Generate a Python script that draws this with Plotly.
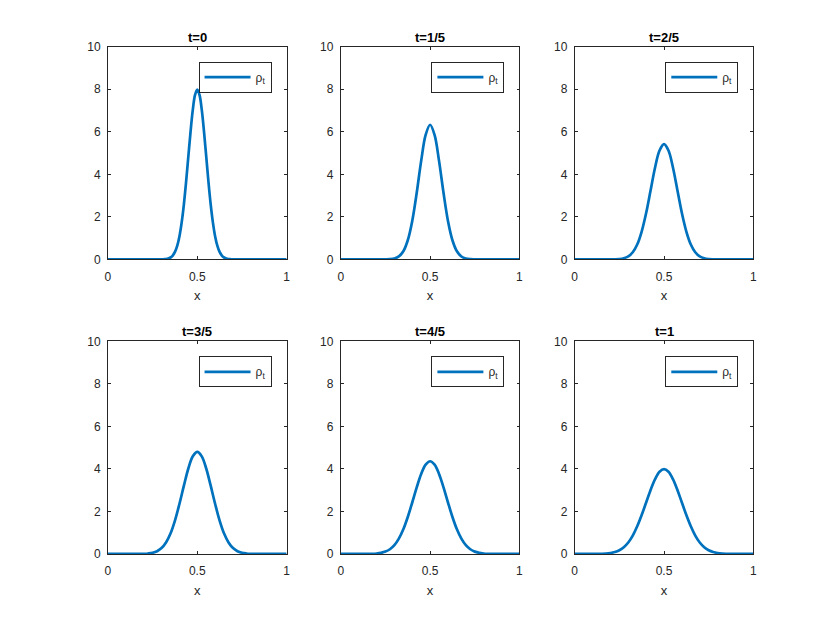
import plotly.graph_objects as go

x = [i / 40 for i in range(41)]
x_fine = [i / 80 for i in range(81)]

titles = ["t=0", "t=1/5", "t=2/5", "t=3/5", "t=4/5", "t=1"]

rho_0 = [0] * 24 + [
         0.003, 0.007, 0.017, 0.041, 0.089, 0.182, 0.35, 0.635, 1.08, 1.73, 2.59, 3.65, 4.84, 6.02, 7.04, 7.73,
         7.98,
         7.73, 7.04, 6.02, 4.84, 3.65, 2.59, 1.73, 1.08, 0.635, 0.35, 0.182, 0.089, 0.041, 0.017, 0.007, 0.003,
         ] + [0] * 24
rho_1 = [0, 0, 0, 0, 0, 0, 0, 0, 0, 0,
         0.003, 0.011, 0.043, 0.138, 0.38, 0.90, 1.81, 3.13, 4.63, 5.85,
         6.33,
         5.85, 4.63, 3.13, 1.81, 0.90, 0.38, 0.138, 0.043, 0.011, 0.003,
         0, 0, 0, 0, 0, 0, 0, 0, 0, 0]
rho_2 = [0, 0, 0, 0, 0, 0, 0, 0,
         0.002, 0.006, 0.018, 0.054, 0.143, 0.335, 0.70, 1.31, 2.18, 3.25, 4.32, 5.12,
         5.42,
         5.12, 4.32, 3.25, 2.18, 1.31, 0.70, 0.335, 0.143, 0.054, 0.018, 0.006, 0.002,
         0, 0, 0, 0, 0, 0, 0, 0]
rho_3 = [0, 0, 0, 0, 0, 0,
         0.001, 0.003, 0.008, 0.022, 0.055, 0.129, 0.276, 0.54, 0.96, 1.57, 2.35, 3.21, 4.02, 4.59,
         4.80,
         4.59, 4.02, 3.21, 2.35, 1.57, 0.96, 0.54, 0.276, 0.129, 0.055, 0.022, 0.008, 0.003, 0.001,
         0, 0, 0, 0, 0, 0]
rho_4 = [0, 0, 0, 0, 0,
         0.001, 0.003, 0.009, 0.022, 0.051, 0.110, 0.222, 0.415, 0.72, 1.16, 1.74, 2.42, 3.13, 3.76, 4.20,
         4.36,
         4.20, 3.76, 3.13, 2.42, 1.74, 1.16, 0.72, 0.415, 0.222, 0.110, 0.051, 0.022, 0.009, 0.003, 0.001,
         0, 0, 0, 0, 0]
rho_5 = [0, 0, 0, 0,
         0.001, 0.004, 0.009, 0.020, 0.044, 0.091, 0.175, 0.318, 0.540, 0.863, 1.30, 1.83, 2.42, 3.01, 3.52, 3.87,
         3.99,
         3.87, 3.52, 3.01, 2.42, 1.83, 1.30, 0.863, 0.540, 0.318, 0.175, 0.091, 0.044, 0.020, 0.009, 0.004, 0.001,
         0, 0, 0, 0]
series = [rho_0, rho_1, rho_2, rho_3, rho_4, rho_5]
grids = [x_fine, x, x, x, x, x]

x_ticks = [0, 0.5, 1]
x_ticktext = ["0", "0.5", "1"]
y_ticks = [0, 2, 4, 6, 8, 10]

line_color = "#0072BD"
axis_color = "#262626"
font_family = "Liberation Sans, Arial, sans-serif"

x_domains = [[0.1178, 0.3349], [0.4007, 0.6178], [0.6849, 0.9020]]
y_domains = [[0.5987, 0.948], [0.115, 0.4642]]

fig = go.Figure()
layout = dict(
    width=830, height=623,
    margin=dict(l=0, r=0, t=0, b=0),
    paper_bgcolor="white", plot_bgcolor="white",
    font=dict(family=font_family, size=12, color=axis_color),
    showlegend=True,
)
annotations = []

for i, (xs, ys, title) in enumerate(zip(grids, series, titles)):
    r, c = divmod(i, 3)
    n = "" if i == 0 else str(i + 1)
    leg = "legend" if i == 0 else "legend" + str(i + 1)
    fig.add_trace(go.Scatter(
        x=xs, y=ys, mode="lines", name="ρ<sub>t</sub>",
        line=dict(color=line_color, width=2.7, shape="spline", smoothing=1),
        xaxis="x" + n, yaxis="y" + n, legend=leg,
    ))
    xd, yd = x_domains[c], y_domains[r]
    common = dict(
        showline=True, linecolor=axis_color, linewidth=0.8, mirror="ticks",
        ticks="inside", ticklen=3, tickcolor=axis_color, tickwidth=0.8,
        showgrid=False, zeroline=False, tickfont=dict(size=12, color=axis_color),
    )
    layout["xaxis" + n] = dict(
        domain=xd, anchor="y" + n, range=[0, 1], tickvals=x_ticks, ticktext=x_ticktext,
        ticklabelstandoff=6,
        title=dict(text="x", font=dict(size=13, color=axis_color), standoff=8), **common,
    )
    layout["yaxis" + n] = dict(
        domain=yd, anchor="x" + n, range=[0, 10], tickvals=y_ticks,
        ticklabelstandoff=4, **common,
    )
    layout[leg] = dict(
        x=xd[1] - 0.0183, y=yd[1] - 0.0246, xanchor="right", yanchor="top",
        bordercolor=axis_color, borderwidth=1, bgcolor="white", itemwidth=46,
        font=dict(size=12, color=axis_color),
    )
    annotations.append(dict(
        x=(xd[0] + xd[1]) / 2, y=yd[1], xref="paper", yref="paper",
        xanchor="center", yanchor="bottom", yshift=0, showarrow=False,
        text="<b>" + title + "</b>", font=dict(size=13, color="black"),
    ))

layout["annotations"] = annotations
fig.update_layout(**layout)
fig.write_html("out.html")
